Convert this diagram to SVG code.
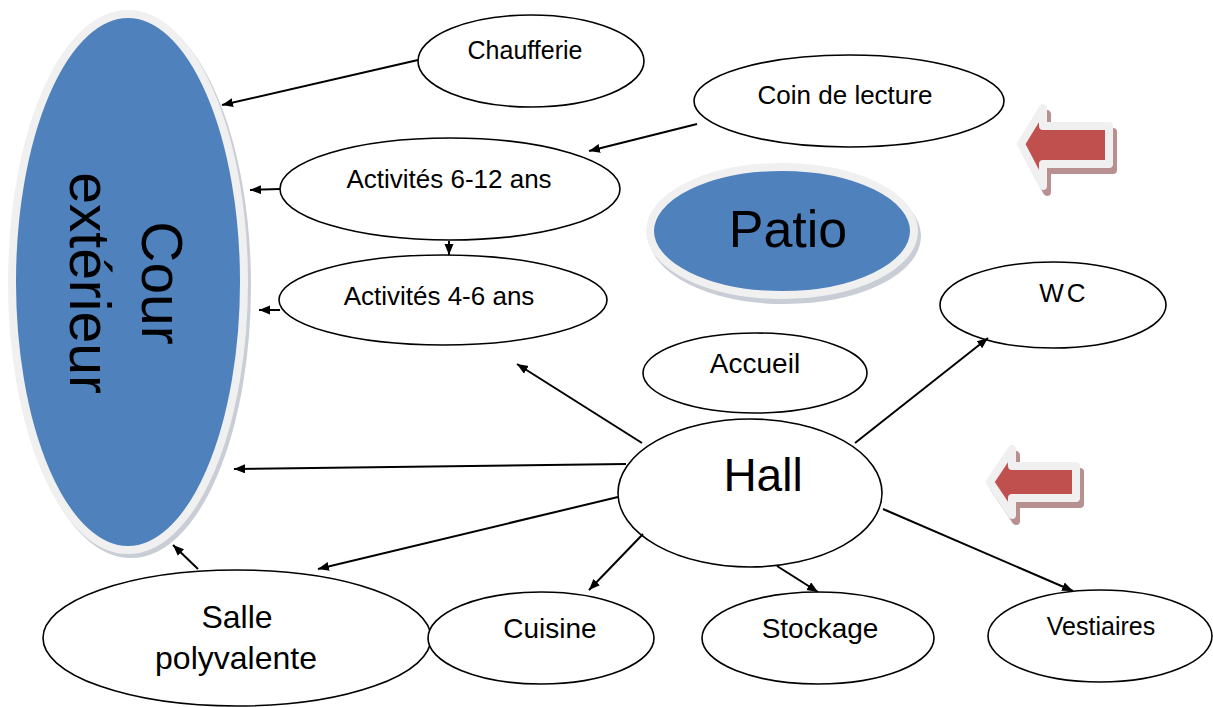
<svg xmlns="http://www.w3.org/2000/svg" width="1213" height="707" viewBox="0 0 1213 707">
<style>
text{font-family:"Liberation Sans",Arial,sans-serif;fill:#000;text-anchor:middle}
.n{fill:#fff;stroke:#000;stroke-width:1.6}
.b{fill:#4f81bd;stroke:#f0f0f0;stroke-width:8}
.bs{fill:#c9cdd6;stroke:#c9cdd6;stroke-width:8}
.ra{fill:#c0504d;stroke:#f0f0f0;stroke-width:8;stroke-linejoin:round}
.rs{fill:#b89090;stroke:#b89090;stroke-width:8;stroke-linejoin:round}
.c line{stroke:#000;stroke-width:2;marker-end:url(#ah)}
</style>
<defs>
<marker id="ah" markerUnits="userSpaceOnUse" markerWidth="12" markerHeight="10" refX="11" refY="4.5" orient="auto">
<path d="M0,0 L11,4.5 L0,9 z" fill="#000"/>
</marker>
</defs>
<rect width="1213" height="707" fill="#fff"/>

<g id="cour">
<ellipse class="bs" cx="131" cy="286" rx="116" ry="268"/>
<ellipse class="b" cx="128" cy="282" rx="116" ry="268"/>
<text transform="translate(142,283) rotate(90)" font-size="57"><tspan x="0" y="0">Cour</tspan><tspan x="0" y="72">extérieur</tspan></text>
</g>

<g id="patio">
<ellipse class="bs" cx="785" cy="236" rx="132" ry="64"/>
<ellipse class="b" cx="782" cy="231" rx="132" ry="64"/>
<text x="788" y="247" font-size="52">Patio</text>
</g>

<g id="fleche1">
<polygon class="rs" points="1025,150 1047,114 1047,132 1113,132 1113,170 1047,170 1047,192"/>
<polygon class="ra" points="1021,144 1043,108 1043,126 1109,126 1109,164 1043,164 1043,186"/>
</g>
<g id="fleche2">
<polygon class="rs" points="994,488 1016,455 1016,472 1080,472 1080,504 1016,504 1016,521"/>
<polygon class="ra" points="990,482 1012,449 1012,466 1076,466 1076,498 1012,498 1012,515"/>
</g>

<g id="chaufferie">
<ellipse class="n" cx="531" cy="61" rx="113" ry="46"/>
<text x="525" y="59" font-size="25">Chaufferie</text>
</g>
<g id="coin-lecture">
<ellipse class="n" cx="849" cy="101" rx="155" ry="46"/>
<text x="845" y="104" font-size="26">Coin de lecture</text>
</g>
<g id="activites-6-12">
<ellipse class="n" cx="450" cy="189" rx="170" ry="51"/>
<text x="449" y="188" font-size="26">Activités 6-12 ans</text>
</g>
<g id="activites-4-6">
<ellipse class="n" cx="443" cy="300" rx="164" ry="45"/>
<text x="439" y="305" font-size="26">Activités 4-6 ans</text>
</g>
<g id="wc">
<ellipse class="n" cx="1053" cy="305" rx="113" ry="43"/>
<text x="1064" y="302" font-size="26" letter-spacing="3">WC</text>
</g>
<g id="accueil">
<ellipse class="n" cx="755" cy="373" rx="112" ry="40"/>
<text x="755" y="373" font-size="28">Accueil</text>
</g>
<g id="hall">
<ellipse class="n" cx="750" cy="493" rx="132" ry="74"/>
<text x="763" y="491" font-size="46">Hall</text>
</g>
<g id="salle">
<ellipse class="n" cx="237" cy="638" rx="194" ry="68"/>
<text x="237" y="628" font-size="32">Salle</text>
<text x="236" y="669" font-size="32">polyvalente</text>
</g>
<g id="cuisine">
<ellipse class="n" cx="541" cy="638" rx="113" ry="46"/>
<text x="550" y="638" font-size="28">Cuisine</text>
</g>
<g id="stockage">
<ellipse class="n" cx="818" cy="638" rx="116" ry="46"/>
<text x="820" y="638" font-size="28">Stockage</text>
</g>
<g id="vestiaires">
<ellipse class="n" cx="1100" cy="636" rx="112" ry="46"/>
<text x="1101" y="635" font-size="25">Vestiaires</text>
</g>

<g id="connecteurs" class="c">
<line x1="418" y1="60" x2="222" y2="105"/>
<line x1="697" y1="124" x2="589" y2="151"/>
<line x1="280" y1="189" x2="250" y2="190"/>
<line x1="449" y1="241" x2="449" y2="255"/>
<line x1="280" y1="310" x2="259" y2="310"/>
<line x1="642" y1="443" x2="517" y2="364"/>
<line x1="626" y1="464" x2="234" y2="469"/>
<line x1="618" y1="497" x2="318" y2="569"/>
<line x1="198" y1="569" x2="173" y2="545"/>
<line x1="643" y1="534" x2="589" y2="590"/>
<line x1="777" y1="566" x2="818" y2="592"/>
<line x1="855" y1="443" x2="988" y2="338"/>
<line x1="883" y1="509" x2="1073" y2="591"/>
</g>
</svg>
